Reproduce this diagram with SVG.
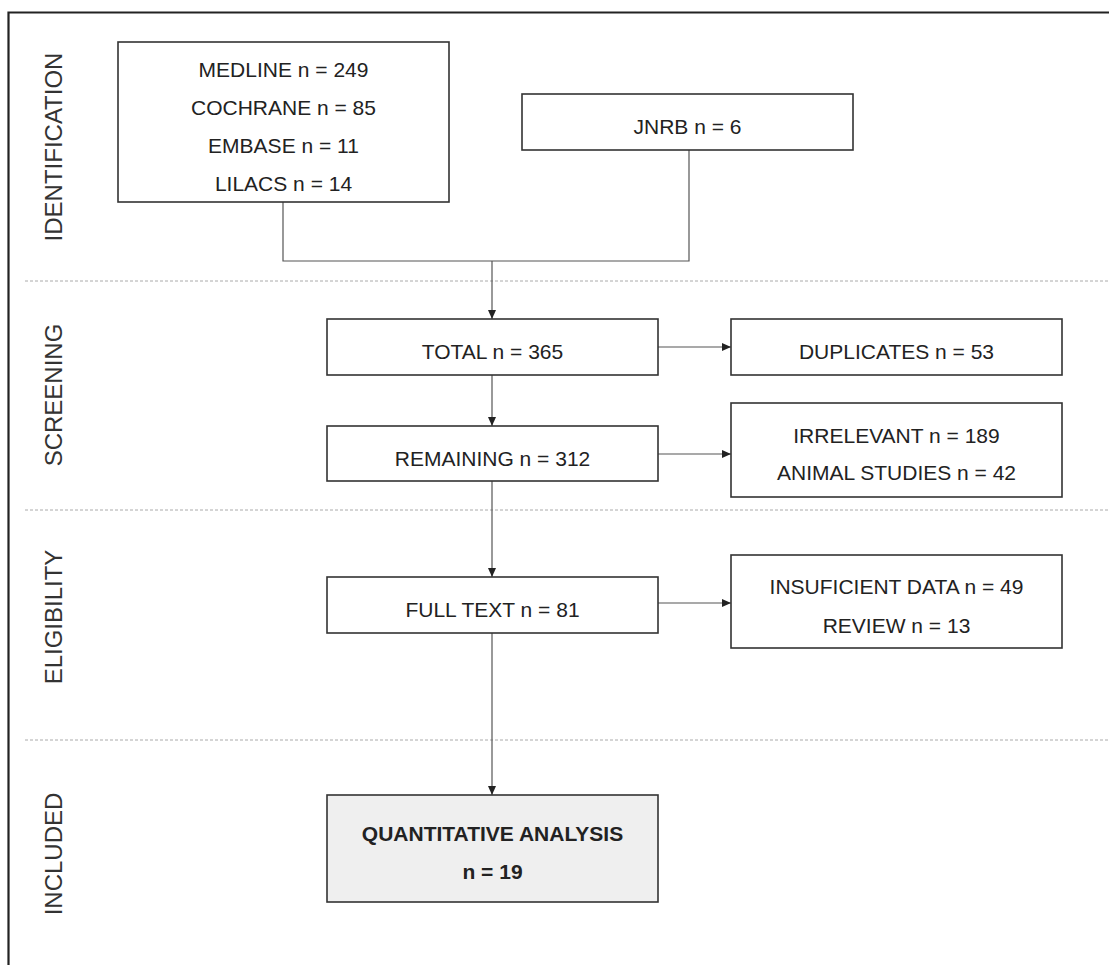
<svg xmlns="http://www.w3.org/2000/svg" width="1109" height="965" viewBox="0 0 1109 965">
<style>
.box{fill:#fff;stroke:#333;stroke-width:1.6}
.hl{fill:#efefef;stroke:#333;stroke-width:1.6}
.t{font-family:"Liberation Sans",Arial,sans-serif;font-size:21px;fill:#222;text-anchor:middle}
.b{font-weight:bold}
.sec{font-family:"Liberation Sans",Arial,sans-serif;font-size:24px;fill:#333;text-anchor:middle}
.c{fill:none;stroke:#555;stroke-width:1.2}
.dash{stroke:#aaa;stroke-width:1;stroke-dasharray:3 2}
</style>
<defs>
<marker id="arr" markerUnits="userSpaceOnUse" markerWidth="10" markerHeight="10" refX="9" refY="5" orient="auto">
<path d="M0,1 L9,5 L0,9 Z" fill="#222"/>
</marker>
</defs>
<rect width="1109" height="965" fill="#fff"/>
<path d="M8.5,965 V12.5 H1109" fill="none" stroke="#222" stroke-width="2.2"/>
<g id="separators">
<line class="dash" x1="25" y1="281" x2="1109" y2="281"/>
<line class="dash" x1="25" y1="510" x2="1109" y2="510"/>
<line class="dash" x1="25" y1="740" x2="1109" y2="740"/>
</g>
<g id="sections">
<text class="sec" transform="translate(62,147) rotate(-90)">IDENTIFICATION</text>
<text class="sec" transform="translate(62,395) rotate(-90)">SCREENING</text>
<text class="sec" transform="translate(62,617) rotate(-90)">ELIGIBILITY</text>
<text class="sec" transform="translate(62,854) rotate(-90)">INCLUDED</text>
</g>
<g id="connectors">
<path class="c" d="M283,202 V261 H492"/>
<path class="c" d="M689,150 V261 H492"/>
<path class="c" d="M492,261 V319" marker-end="url(#arr)"/>
<path class="c" d="M492,375 V426" marker-end="url(#arr)"/>
<path class="c" d="M658,347 H731" marker-end="url(#arr)"/>
<path class="c" d="M658,454 H731" marker-end="url(#arr)"/>
<path class="c" d="M492,481 V577" marker-end="url(#arr)"/>
<path class="c" d="M658,603 H731" marker-end="url(#arr)"/>
<path class="c" d="M492,633 V795" marker-end="url(#arr)"/>
</g>
<g id="databases">
<rect class="box" x="118" y="42" width="331" height="160"/>
<text class="t" x="283.5" y="77">MEDLINE n = 249</text>
<text class="t" x="283.5" y="115">COCHRANE n = 85</text>
<text class="t" x="283.5" y="153">EMBASE n = 11</text>
<text class="t" x="283.5" y="191">LILACS n = 14</text>
</g>
<g id="jnrb">
<rect class="box" x="522" y="94" width="331" height="56"/>
<text class="t" x="687.5" y="134">JNRB n = 6</text>
</g>
<g id="total">
<rect class="box" x="327" y="319" width="331" height="56"/>
<text class="t" x="492.5" y="359">TOTAL n = 365</text>
</g>
<g id="duplicates">
<rect class="box" x="731" y="319" width="331" height="56"/>
<text class="t" x="896.5" y="359">DUPLICATES n = 53</text>
</g>
<g id="remaining">
<rect class="box" x="327" y="426" width="331" height="55"/>
<text class="t" x="492.5" y="466">REMAINING n = 312</text>
</g>
<g id="irrelevant">
<rect class="box" x="731" y="403" width="331" height="94"/>
<text class="t" x="896.5" y="443">IRRELEVANT n = 189</text>
<text class="t" x="896.5" y="480">ANIMAL STUDIES n = 42</text>
</g>
<g id="fulltext">
<rect class="box" x="327" y="577" width="331" height="56"/>
<text class="t" x="492.5" y="617">FULL TEXT n = 81</text>
</g>
<g id="excluded-full">
<rect class="box" x="731" y="555" width="331" height="93"/>
<text class="t" x="896.5" y="594">INSUFICIENT DATA n = 49</text>
<text class="t" x="896.5" y="633">REVIEW n = 13</text>
</g>
<g id="included">
<rect class="hl" x="327" y="795" width="331" height="107"/>
<text class="t b" x="492.5" y="841">QUANTITATIVE ANALYSIS</text>
<text class="t b" x="492.5" y="879">n = 19</text>
</g>
</svg>
